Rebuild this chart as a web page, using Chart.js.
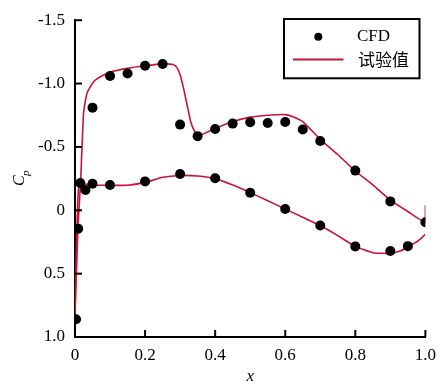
<!DOCTYPE html>
<html>
<head>
<meta charset="utf-8">
<script src="https://cdn.jsdelivr.net/npm/chart.js@4/dist/chart.umd.min.js"></script>
<style>
html,body{margin:0;padding:0;background:#fff;}
#wrap{width:444px;height:385px;}
</style>
</head>
<body>
<div id="wrap"><canvas id="c" width="444" height="385"></canvas></div>
<script>
// CFD points (upper and lower surfaces)
const cfdUpperX  = [0.05, 0.10, 0.15, 0.20, 0.25, 0.30, 0.35, 0.40, 0.45, 0.50, 0.55, 0.60, 0.65, 0.70, 0.80, 0.90, 1.00];
const cfdUpperCp = [-0.81, -1.06, -1.08, -1.14, -1.155, -0.676, -0.585, -0.642, -0.684, -0.694, -0.689, -0.697, -0.637, -0.547, -0.313, -0.07, 0.094];
const cfdLowerX  = [0.003, 0.009, 0.015, 0.03, 0.05, 0.10, 0.20, 0.30, 0.40, 0.50, 0.60, 0.70, 0.80, 0.90, 0.95];
const cfdLowerCp = [0.86, 0.145, -0.215, -0.16, -0.21, -0.20, -0.228, -0.287, -0.253, -0.138, -0.01, 0.12, 0.285, 0.322, 0.283];

// Experimental curves
const expUpperX  = [0, 0.004, 0.009, 0.016, 0.020, 0.024, 0.028, 0.035, 0.045, 0.055, 0.07, 0.10, 0.15, 0.20, 0.25, 0.28, 0.29, 0.30, 0.31, 0.32, 0.33, 0.34, 0.35, 0.36, 0.38, 0.40, 0.45, 0.50, 0.55, 0.60, 0.62, 0.65, 0.70, 0.75, 0.80, 0.85, 0.90, 0.95, 1.00, 1.00];
const expUpperCp = [0.82, 0.5, 0.1, -0.22, -0.5, -0.75, -0.84, -0.93, -0.98, -1.02, -1.05, -1.09, -1.12, -1.14, -1.155, -1.15, -1.13, -1.07, -0.96, -0.83, -0.70, -0.63, -0.60, -0.595, -0.62, -0.645, -0.70, -0.735, -0.75, -0.755, -0.74, -0.70, -0.56, -0.44, -0.31, -0.20, -0.08, 0.01, 0.094, -0.04];
const expLowerX  = [0, 0.002, 0.005, 0.008, 0.011, 0.015, 0.04, 0.10, 0.15, 0.20, 0.25, 0.30, 0.35, 0.40, 0.45, 0.50, 0.55, 0.60, 0.65, 0.70, 0.75, 0.80, 0.85, 0.90, 0.93, 0.95, 0.98, 1.00];
const expLowerCp = [0.82, 0.55, 0.2, -0.07, -0.2, -0.22, -0.2, -0.197, -0.197, -0.22, -0.26, -0.275, -0.27, -0.25, -0.2, -0.14, -0.075, -0.01, 0.055, 0.12, 0.2, 0.285, 0.335, 0.34, 0.32, 0.29, 0.24, 0.19];

const xTicks = [0, 0.2, 0.4, 0.6, 0.8, 1.0];
const yTicks = [-1.5, -1.0, -0.5, 0, 0.5, 1.0];
const seriesLabels = ['CFD', '试验值'];

const RED = '#cc1136';
const SERIF = '"Liberation Serif", "DejaVu Serif", serif';

const zip = (xs, ys) => xs.map((x, i) => ({x: x, y: ys[i]}));
const fmt = v => (Math.abs(v) < 1e-9 ? '0' : v.toFixed(1));

const innerTicks = {
  id: 'innerTicks',
  afterDraw(chart) {
    const ctx = chart.ctx;
    const xs = chart.scales.x, ys = chart.scales.y;
    const a = chart.chartArea;
    ctx.save();
    ctx.strokeStyle = '#000';
    ctx.lineWidth = 2;
    yTicks.forEach(v => {
      const p = ys.getPixelForValue(v);
      ctx.beginPath(); ctx.moveTo(a.left, p); ctx.lineTo(a.left + 7, p); ctx.stroke();
    });
    xTicks.forEach(v => {
      const p = xs.getPixelForValue(v);
      ctx.beginPath(); ctx.moveTo(p, a.bottom); ctx.lineTo(p, a.bottom - 7); ctx.stroke();
    });
    // y axis title C_p
    ctx.fillStyle = '#000';
    ctx.translate(22, 181);
    ctx.rotate(-Math.PI / 2);
    ctx.textBaseline = 'alphabetic';
    ctx.textAlign = 'left';
    ctx.font = 'italic 16px ' + SERIF;
    ctx.fillText('C', -5, 2);
    ctx.font = 'italic 11px ' + SERIF;
    ctx.fillText('p', 5, 7);
    ctx.restore();

    // legend
    ctx.save();
    ctx.fillStyle = '#fff';
    ctx.fillRect(284, 19, 135.5, 59.3);
    ctx.strokeStyle = '#000';
    ctx.lineWidth = 2;
    ctx.strokeRect(284, 19, 135.5, 59.3);
    const ds = chart.data.datasets;
    ctx.fillStyle = ds[0].pointBackgroundColor;
    ctx.beginPath(); ctx.arc(318.3, 36.7, 4, 0, Math.PI * 2); ctx.fill();
    ctx.strokeStyle = ds[1].borderColor;
    ctx.lineWidth = 2;
    ctx.beginPath(); ctx.moveTo(293, 59.5); ctx.lineTo(343.5, 59.5); ctx.stroke();
    ctx.fillStyle = '#000';
    ctx.textBaseline = 'middle';
    ctx.textAlign = 'left';
    ctx.font = '17px ' + SERIF;
    ctx.fillText(ds[0].label, 357, 37);
    ctx.font = '17px "Noto Sans CJK SC", sans-serif';
    ctx.fillText(ds[1].label, 358, 60);
    ctx.restore();
  }
};

new Chart(document.getElementById('c'), {
  type: 'scatter',
  data: {
    datasets: [
      {
        label: seriesLabels[0],
        data: zip(cfdUpperX, cfdUpperCp).concat(zip(cfdLowerX, cfdLowerCp)),
        showLine: false,
        pointRadius: 5,
        pointBackgroundColor: '#000',
        pointBorderWidth: 0,
        pointBorderColor: '#000',
        order: 0
      },
      {
        label: seriesLabels[1],
        data: zip(expUpperX, expUpperCp),
        showLine: true,
        borderColor: RED,
        borderWidth: 1.6,
        pointRadius: 0,
        tension: 0.15,
        order: 1
      },
      {
        label: seriesLabels[1],
        data: zip(expLowerX, expLowerCp),
        showLine: true,
        borderColor: RED,
        borderWidth: 1.6,
        pointRadius: 0,
        tension: 0.15,
        order: 1
      }
    ]
  },
  options: {
    responsive: false,
    animation: false,
    events: [],
    layout: { padding: { left: 0, right: 17, top: 16, bottom: 0 } },
    plugins: { legend: { display: false }, tooltip: { enabled: false } },
    scales: {
      x: {
        type: 'linear',
        min: 0, max: 1.0,
        afterBuildTicks: s => { s.ticks = xTicks.map(v => ({value: v})); },
        afterFit: s => { s.height = 48; },
        grid: { display: false, drawTicks: false },
        border: { display: true, color: '#000', width: 2 },
        ticks: {
          padding: 8,
          color: '#000',
          font: { family: SERIF, size: 17 },
          callback: v => fmt(v),
          maxRotation: 0
        },
        title: {
          display: true,
          text: 'x',
          color: '#000',
          font: { family: SERIF, size: 17, style: 'italic', lineHeight: 1 },
          padding: { top: 0, bottom: 0 }
        }
      },
      y: {
        type: 'linear',
        reverse: true,
        min: -1.5, max: 1.0,
        afterBuildTicks: s => { s.ticks = yTicks.map(v => ({value: v})); },
        afterFit: s => { s.width = 75; },
        grid: { display: false, drawTicks: false },
        border: { display: true, color: '#000', width: 2 },
        ticks: {
          padding: 10,
          color: '#000',
          font: { family: SERIF, size: 17 },
          callback: v => fmt(v)
        }
      }
    }
  },
  plugins: [innerTicks]
});
</script>
</body>
</html>
